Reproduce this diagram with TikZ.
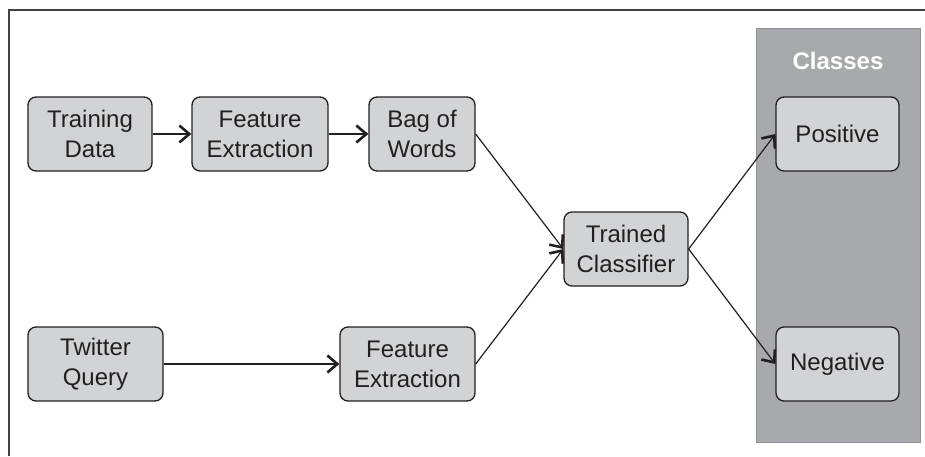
\documentclass[tikz,border=0pt]{standalone}
\usepackage{fontspec}
\setmainfont{Liberation Sans}
\usetikzlibrary{arrows.meta}
\definecolor{boxgray}{HTML}{D1D3D4}
\definecolor{panelgray}{HTML}{A7A9AC}
\definecolor{panelline}{HTML}{8E9093}
\definecolor{ink}{HTML}{231F20}
\tikzset{
  boxnode/.style={draw=ink, fill=boxgray, rounded corners=8pt, line width=1.3pt,
    align=center, inner sep=0pt, minimum height=74pt, text=ink,
    font=\fontsize{24}{30}\selectfont},
  conn/.style={draw=ink, line width=1.2pt,
    -{Straight Barb[length=10pt,width=17pt,line width=2.6pt]}},
}
\begin{document}
\begin{tikzpicture}[x=1pt,y=-1pt]
\useasboundingbox (0,0) rectangle (925,456);
\draw[line width=1.5pt, color=ink!85] (9,456) -- (9,10) -- (925,10);
\node[fill=panelgray, draw=panelline, line width=1pt, minimum width=164pt, minimum height=414pt, inner sep=0pt] (panel) at (838,235) {};
\node[text=white, font=\fontsize{24}{30}\selectfont\bfseries] (classes) at (838,61) {Classes};
\node[boxnode, minimum width=124pt] (td) at (90,134) {Training\\Data};
\node[boxnode, minimum width=136pt] (fe1) at (260,134) {Feature\\Extraction};
\node[boxnode, minimum width=106pt] (bow) at (422,134) {Bag of\\Words};
\node[boxnode, minimum width=135pt] (tq) at (95.5,364) {Twitter\\Query};
\node[boxnode, minimum width=135pt] (fe2) at (407.5,364) {Feature\\Extraction};
\node[boxnode, minimum width=124pt] (tc) at (626,249) {Trained\\Classifier};
\node[boxnode, minimum width=123pt] (pos) at (837.5,134) {Positive};
\node[boxnode, minimum width=123pt] (neg) at (837.5,364) {Negative};
\draw[conn] (td) -- (fe1);
\draw[conn] (fe1) -- (bow);
\draw[conn] (tq) -- (fe2);
\draw[conn] (bow.east) -- (tc.west);
\draw[conn] (fe2.east) -- (tc.west);
\draw[conn] (tc.east) -- (pos.west);
\draw[conn] (tc.east) -- (neg.west);
\end{tikzpicture}
\end{document}
